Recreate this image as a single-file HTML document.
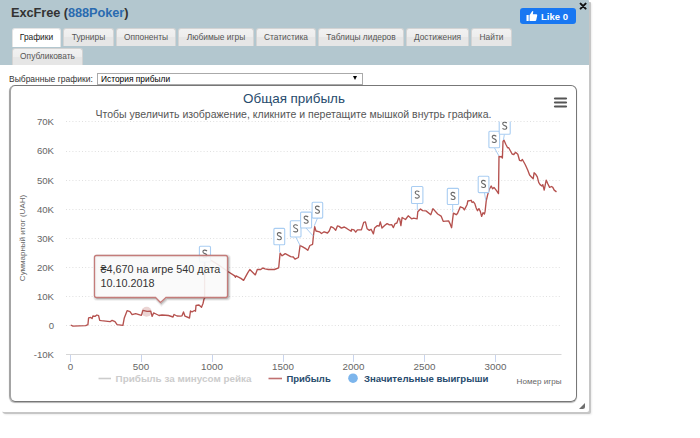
<!DOCTYPE html>
<html><head><meta charset="utf-8">
<style>
html,body{margin:0;padding:0;width:700px;height:438px;overflow:hidden;background:#fff;font-family:"Liberation Sans",sans-serif;}
.dlg{position:absolute;left:0;top:0;width:589px;height:412px;background:#fff;border-radius:0 1px 2px 4px;box-shadow:2px 2px 0 #c6c6c6,3px 3px 2px rgba(0,0,0,0.07);overflow:hidden;}
.hdr{position:absolute;left:0;top:0;width:589px;height:65px;background:#b3c7cf;}
.title{position:absolute;left:11px;top:5px;font-size:12.8px;letter-spacing:-0.08px;font-weight:bold;color:#333;white-space:nowrap;}
.title span{color:#2a6bb0;}
.like{position:absolute;left:520px;top:8px;width:56px;height:16px;background:#1877f2;border-radius:3px;color:#fff;font-weight:bold;font-size:9.5px;}
.like .t{position:absolute;left:21px;top:2.5px;}
.close{position:absolute;left:579px;top:1px;font-size:10px;font-weight:bold;color:#000;}
.tab{position:absolute;height:18px;background:linear-gradient(#f1f1f1 0%,#ededed 50%,#e6e6e6 50%,#e6e6e6 100%);border:1px solid #d3d3d3;border-bottom:none;border-radius:3px 3px 0 0;font-size:8.4px;color:#555;box-sizing:border-box;text-align:center;line-height:17px;white-space:nowrap;}
.tab.act{background:#fff;border-color:#e4e4e4;height:19px;color:#212121;}
.lbl{position:absolute;left:9px;top:74px;font-size:8.5px;color:#333;white-space:nowrap;}
.sel{position:absolute;left:97px;top:73px;width:266px;height:12px;border:1px solid #aaa;box-sizing:border-box;background:#fff;font-size:8.4px;color:#000;}
.sel .t{position:absolute;left:3px;top:0px;}
.sel .arr{position:absolute;left:255px;top:2px;width:0;height:0;border-left:2.3px solid transparent;border-right:2.3px solid transparent;border-top:4.6px solid #000;}
.chart{position:absolute;left:9px;top:85px;width:568px;height:317px;border:1.5px solid #777;border-left:2px solid #a4a4a4;border-radius:6px;box-sizing:border-box;box-shadow:0 1px 1px rgba(0,0,0,.3);}
svg{position:absolute;left:0;top:0;}
</style></head><body>
<div class="dlg">
 <div class="hdr">
  <div class="title">ExcFree (<span>888Poker</span>)</div>
  <div class="like"><svg width="12" height="12" style="left:6px;top:2px" viewBox="0 0 12 12"><path d="M0.5 5h2.2v6H0.5z M3.5 5.2 L6 1.5 Q7 0.6 7.3 1.6 L6.8 4.3 H10.5 Q11.5 4.5 11.2 5.6 L10.2 10.3 Q9.9 11 9.2 11 H3.5z" fill="#fff"/></svg><span class="t">Like 0</span></div>
  <svg width="8" height="8" style="left:579px;top:2px" viewBox="0 0 8 8"><path d="M1.6 1.6L6.6 6.6M6.6 1.6L1.6 6.6" stroke="#111" stroke-width="2" stroke-linecap="round"/></svg>
  <div class="tab act" style="left:12px;top:28px;width:49px;">Графики</div>
  <div class="tab" style="left:63px;top:28px;width:51px;">Турниры</div>
  <div class="tab" style="left:116px;top:28px;width:60px;">Оппоненты</div>
  <div class="tab" style="left:178px;top:28px;width:76px;">Любимые игры</div>
  <div class="tab" style="left:256px;top:28px;width:60px;">Статистика</div>
  <div class="tab" style="left:318px;top:28px;width:86px;">Таблицы лидеров</div>
  <div class="tab" style="left:406px;top:28px;width:63px;">Достижения</div>
  <div class="tab" style="left:471px;top:28px;width:41px;">Найти</div>
  <div class="tab" style="left:12px;top:48px;width:71px;height:17px;line-height:15px;">Опубликовать</div>
 </div>
 <div class="lbl">Выбранные графики:</div>
 <div class="chart"></div>
 <div class="sel"><span class="t">История прибыли</span><span class="arr"></span></div>
 <svg width="8" height="8" style="left:578px;top:402px" viewBox="0 0 8 8"><path d="M1 7 L7 1 L7 4.5 Q7 7 4.5 7 Z" fill="#6e6e6e"/></svg>
</div>
<svg width="700" height="438" viewBox="0 0 700 438" font-family="Liberation Sans">
 <defs><clipPath id="plotclip"><rect x="66" y="121.5" width="500" height="234"/></clipPath></defs>
 <!-- grid -->
 <g stroke="#e0e0e0" stroke-width="1" stroke-dasharray="1,2.2">
  <line x1="66" y1="121.5" x2="561" y2="121.5"/>
  <line x1="66" y1="151.5" x2="561" y2="151.5"/>
  <line x1="66" y1="180.5" x2="561" y2="180.5"/>
  <line x1="66" y1="209.5" x2="561" y2="209.5"/>
  <line x1="66" y1="238.5" x2="561" y2="238.5"/>
  <line x1="66" y1="267.5" x2="561" y2="267.5"/>
  <line x1="66" y1="296.5" x2="561" y2="296.5"/>
  <line x1="66" y1="325.5" x2="561" y2="325.5"/>
 </g>
 <line x1="66" y1="354.5" x2="561.5" y2="354.5" stroke="#d6d6d6" stroke-width="1"/>
 <g stroke="#c8d4ee" stroke-width="1">
  <line x1="70.5" y1="355" x2="70.5" y2="362"/>
  <line x1="141.5" y1="355" x2="141.5" y2="362"/>
  <line x1="212.5" y1="355" x2="212.5" y2="362"/>
  <line x1="283.5" y1="355" x2="283.5" y2="362"/>
  <line x1="353.5" y1="355" x2="353.5" y2="362"/>
  <line x1="424.5" y1="355" x2="424.5" y2="362"/>
  <line x1="495.5" y1="355" x2="495.5" y2="362"/>
 </g>
 <g font-size="9.6" fill="#666" text-anchor="end">
  <text x="54" y="124.5">70K</text>
  <text x="54" y="154">60K</text>
  <text x="54" y="183.5">50K</text>
  <text x="54" y="212.5">40K</text>
  <text x="54" y="241.5">30K</text>
  <text x="54" y="271">20K</text>
  <text x="54" y="300">10K</text>
  <text x="54" y="329">0</text>
  <text x="54" y="358">-10K</text>
 </g>
 <g font-size="9.8" fill="#666" text-anchor="middle">
  <text x="70.5" y="370.2">0</text>
  <text x="141" y="370.2">500</text>
  <text x="212" y="370.2">1000</text>
  <text x="283" y="370.2">1500</text>
  <text x="353.5" y="370.2">2000</text>
  <text x="424.5" y="370.2">2500</text>
  <text x="495.5" y="370.2">3000</text>
 </g>
 <text x="561.5" y="384" font-size="8.1" fill="#666" text-anchor="end">Номер игры</text>
 <text transform="translate(25,238) rotate(-90)" font-size="8" fill="#666" text-anchor="middle">Суммарный итог (UAH)</text>
 <text x="294" y="102.5" font-size="13.4" fill="#274b6d" text-anchor="middle">Общая прибыль</text>
 <text x="293.5" y="118" font-size="10.52" fill="#555" text-anchor="middle">Чтобы увеличить изображение, кликните и перетащите мышкой внутрь графика.</text>
 <!-- hamburger -->
 <g stroke="#555" stroke-width="2.2" stroke-linecap="round">
  <line x1="555" y1="98.5" x2="566" y2="98.5"/>
  <line x1="555" y1="102.5" x2="566" y2="102.5"/>
  <line x1="555" y1="106.5" x2="566" y2="106.5"/>
 </g>
 <!-- legend -->
 <line x1="98.5" y1="378.5" x2="111" y2="378.5" stroke="#ccc" stroke-width="1.6"/>
 <text x="115.6" y="382" font-size="9.9" font-weight="bold" fill="#ccc">Прибыль за минусом рейка</text>
 <line x1="268.5" y1="378.5" x2="282" y2="378.5" stroke="#c07070" stroke-width="1.6"/>
 <text x="286.4" y="382" font-size="9.5" font-weight="bold" fill="#274b6d">Прибыль</text>
 <circle cx="353" cy="378.2" r="4.8" fill="#7cb5ec"/>
 <text x="364" y="382" font-size="9.6" font-weight="bold" fill="#274b6d">Значительные выигрыши</text>
 <!-- series -->
 <polyline fill="none" stroke="#b5514e" stroke-width="1.35" stroke-linejoin="round" points="70.7,325 72.9,326.1 85.7,325.7 87.9,324.7 88.6,317.9 90.7,317.4 92.1,318.6 92.9,316 95,316.4 96.9,315 98.6,315.7 99.7,320.3 101.4,320.7 110,321.7 112.1,320.4 115,321.7 117.1,324.7 122.9,325.4 124.3,317.9 127.1,310.7 130,311.7 132.1,314.6 135.7,313.6 141.4,315.4 142.9,310.4 147.1,311.4 150.7,311.1 152.1,316.4 153.6,312.9 156,314 159,315.5 162,315 168.5,315.5 173,317 174,314.5 177,316 180,316.2 182,315.8 183.5,312 185,316.2 189.5,318 190.5,311 192,311.8 194.5,310.5 195.5,311.2 196,305.5 199,305 201.5,307.2 203,303.5 204,299 204.6,298.5 204.6,260.5 211.4,260.5 214.9,262.6 219,265.3 227.9,271.5 234.7,275.9 235.4,277.3 236.1,275.9 240.9,278.4 243.6,280.4 247.7,272.9 249.8,269.5 255.3,274.9 257.3,269.5 260.8,269.5 262.8,268 265,268.8 268.4,269.5 274.4,269.5 278.7,267.8 280.1,253.2 282.1,255.8 285.2,253.6 290.7,256.6 293.3,257 295,259.2 298.4,257.5 300.1,245.5 302.7,246.9 306.1,248.9 307.8,250.3 309.9,245.5 312.6,244.3 313.5,235.2 314.7,226.7 316,231 319.5,231.8 321.5,233.5 324.1,231.8 327.5,233 329.2,231 330.9,226.7 333.5,227.9 335.7,230.2 337.4,225.9 339.1,226.4 341.4,228.1 344.3,227 347.1,228.7 351.1,231.3 351.7,229.3 354,229.9 355.7,232.1 357.4,229.9 361.4,229.9 363.7,222.4 365.4,221.9 367.1,228.7 369.4,230.4 371.1,229.3 373.4,233.9 374.6,228.1 377.4,225.6 379.1,226.1 380.3,221.9 382,228.1 384.9,225.3 387.1,223.6 389.4,224.9 391.7,224.7 393.4,227.6 395.1,223.6 396.9,223 398.6,217.9 399.7,219.2 400.9,225.6 402.1,217.5 405.5,219.5 408.2,215.8 411.6,218.8 413.7,218.2 417.1,218.8 417.8,211.7 420.5,209 422.6,210.6 426,210.9 430.8,214.7 432.9,208.6 437.7,214 441.1,216.1 443.2,221.3 448.6,220.9 450,223.6 451.6,227.7 453.4,213.1 456.2,214.7 457.5,213.4 460.3,206.8 463,207.9 464.4,209.9 467.1,204.5 467.8,201 471.2,200.3 472.1,202.5 473.4,201.8 474.8,203.6 476.2,208 477.5,210.7 478.9,208.6 480.3,211.4 481.6,216.4 483,212.7 484.4,214.1 485.1,211.4 486.2,201.1 487.8,194.2 489.2,189.5 491.2,186 492.6,188.8 494,187.4 496.7,190.8 498.5,193.6 499,156.3 500.1,156.8 501.3,156.5 502.4,158 503,141.4 503.9,140 505.8,144.3 507.6,147.7 508.7,147.7 512.1,154 513.8,154.5 515.5,152.3 517.8,154.2 519.5,160.3 521.3,160.8 522.4,159.5 525.3,164.8 527.7,170 529.6,175.1 531.4,176.9 533.2,178.7 534.1,172.8 535.9,174.6 537.3,176.9 538.7,182.4 540.1,184.6 541.9,186 542.8,184.6 544.2,190.1 546.2,180.1 547.8,183.7 549.6,187.4 551.5,186.5 552.8,187.4 554.2,190.1 556.5,191.9"/>
 <!-- flags -->
<g clip-path="url(#plotclip)">
 <line x1="205" y1="262" x2="205" y2="268" stroke="#a9cdf2" stroke-width="1"/>
 <rect x="199.4" y="246.2" width="11.1" height="15.8" rx="1" fill="#fff" stroke="#a9cdf2" stroke-width="1.1"/>
 <path d="M207.0,251.0 Q205.8,249.9 204.3,250.1 Q202.6,250.5 203.1,252.2 Q203.5,253.2 204.9,253.6 Q206.5,254.1 206.9,255.2 Q207.2,257.0 205.2,257.2 Q203.7,257.4 202.7,256.4" fill="none" stroke="#6a6a6a" stroke-width="1.15"/>
 <line x1="279.6" y1="244.7" x2="279.6" y2="252.4" stroke="#a9cdf2" stroke-width="1"/>
 <rect x="273.9" y="228.4" width="10.8" height="16.3" rx="1" fill="#fff" stroke="#a9cdf2" stroke-width="1.1"/>
 <path d="M281.4,233.5 Q280.2,232.4 278.7,232.6 Q277.0,233.0 277.5,234.7 Q277.9,235.7 279.3,236.1 Q280.9,236.6 281.3,237.7 Q281.6,239.5 279.6,239.7 Q278.1,239.9 277.1,238.9" fill="none" stroke="#6a6a6a" stroke-width="1.15"/>
 <line x1="295.8" y1="237" x2="300.1" y2="245.5" stroke="#a9cdf2" stroke-width="1"/>
 <rect x="290.3" y="220.7" width="10.7" height="16.3" rx="1" fill="#fff" stroke="#a9cdf2" stroke-width="1.1"/>
 <path d="M297.7,225.7 Q296.5,224.6 295.0,224.8 Q293.3,225.2 293.8,226.9 Q294.2,227.9 295.6,228.3 Q297.2,228.8 297.6,229.9 Q297.9,231.7 295.9,231.9 Q294.4,232.1 293.4,231.1" fill="none" stroke="#6a6a6a" stroke-width="1.15"/>
 <line x1="306" y1="228" x2="313.3" y2="236.1" stroke="#a9cdf2" stroke-width="1"/>
 <rect x="300.6" y="212.1" width="11.0" height="15.9" rx="1" fill="#fff" stroke="#a9cdf2" stroke-width="1.1"/>
 <path d="M308.2,217.0 Q307.0,215.9 305.5,216.1 Q303.8,216.5 304.3,218.2 Q304.7,219.2 306.1,219.6 Q307.7,220.1 308.1,221.2 Q308.4,223.0 306.4,223.2 Q304.9,223.4 303.9,222.4" fill="none" stroke="#6a6a6a" stroke-width="1.15"/>
 <line x1="317.5" y1="218.1" x2="314.3" y2="225.8" stroke="#a9cdf2" stroke-width="1"/>
 <rect x="312.1" y="202.2" width="10.6" height="15.9" rx="1" fill="#fff" stroke="#a9cdf2" stroke-width="1.1"/>
 <path d="M319.5,207.0 Q318.3,205.9 316.8,206.1 Q315.1,206.5 315.6,208.2 Q316.0,209.2 317.4,209.6 Q319.0,210.1 319.4,211.2 Q319.7,213.0 317.7,213.2 Q316.2,213.4 315.2,212.4" fill="none" stroke="#6a6a6a" stroke-width="1.15"/>
 <line x1="417.3" y1="203.5" x2="417.3" y2="210.3" stroke="#a9cdf2" stroke-width="1"/>
 <rect x="411.5" y="186.5" width="11.4" height="17.0" rx="1" fill="#fff" stroke="#a9cdf2" stroke-width="1.1"/>
 <path d="M419.3,191.9 Q418.1,190.8 416.6,191.0 Q414.9,191.4 415.4,193.1 Q415.8,194.1 417.2,194.5 Q418.8,195.0 419.2,196.1 Q419.5,197.9 417.5,198.1 Q416.0,198.3 415.0,197.3" fill="none" stroke="#6a6a6a" stroke-width="1.15"/>
 <line x1="452.7" y1="204.5" x2="452.7" y2="212.3" stroke="#a9cdf2" stroke-width="1"/>
 <rect x="447.3" y="188.4" width="11.3" height="16.1" rx="1" fill="#fff" stroke="#a9cdf2" stroke-width="1.1"/>
 <path d="M455.1,193.3 Q453.9,192.2 452.4,192.4 Q450.7,192.8 451.2,194.5 Q451.6,195.5 453.0,195.9 Q454.6,196.4 455.0,197.5 Q455.3,199.3 453.3,199.5 Q451.8,199.7 450.8,198.7" fill="none" stroke="#6a6a6a" stroke-width="1.15"/>
 <line x1="484.4" y1="192.6" x2="485.8" y2="200.4" stroke="#a9cdf2" stroke-width="1"/>
 <rect x="478.2" y="176.2" width="10.7" height="16.4" rx="1" fill="#fff" stroke="#a9cdf2" stroke-width="1.1"/>
 <path d="M485.6,181.3 Q484.4,180.2 482.9,180.4 Q481.2,180.8 481.7,182.5 Q482.1,183.5 483.5,183.9 Q485.1,184.4 485.5,185.5 Q485.8,187.3 483.8,187.5 Q482.3,187.7 481.3,186.7" fill="none" stroke="#6a6a6a" stroke-width="1.15"/>
 <line x1="494.4" y1="147.7" x2="498.9" y2="155.9" stroke="#a9cdf2" stroke-width="1"/>
 <rect x="488.9" y="131.2" width="10.7" height="16.5" rx="1" fill="#fff" stroke="#a9cdf2" stroke-width="1.1"/>
 <path d="M496.3,136.3 Q495.1,135.2 493.6,135.4 Q491.9,135.8 492.4,137.5 Q492.8,138.5 494.2,138.9 Q495.8,139.4 496.2,140.5 Q496.5,142.3 494.5,142.5 Q493.0,142.7 492.0,141.7" fill="none" stroke="#6a6a6a" stroke-width="1.15"/>
 <line x1="504.4" y1="134.3" x2="503.4" y2="140" stroke="#a9cdf2" stroke-width="1"/>
 <rect x="499.2" y="117.8" width="11.0" height="16.5" rx="1" fill="#fff" stroke="#a9cdf2" stroke-width="1.1"/>
 <path d="M506.8,123.0 Q505.6,121.9 504.1,122.1 Q502.4,122.5 502.9,124.2 Q503.3,125.2 504.7,125.6 Q506.3,126.1 506.7,127.2 Q507.0,129.0 505.0,129.2 Q503.5,129.4 502.5,128.4" fill="none" stroke="#6a6a6a" stroke-width="1.15"/>
</g>
 <!-- hover halo -->
 <circle cx="146.6" cy="311.8" r="5" fill="#b05350" fill-opacity="0.25"/>
 <!-- tooltip -->
 <g transform="translate(1,1)" fill="none" stroke="#000"><path d="M96.5,255.5 H225.5 Q227.5,255.5 227.5,257.5 V295.5 Q227.5,297.5 225.5,297.5 H166 L160.5,302.5 L155.5,297.5 H96.5 Q94.5,297.5 94.5,295.5 V257.5 Q94.5,255.5 96.5,255.5 Z" stroke-opacity="0.05" stroke-width="5"/><path d="M96.5,255.5 H225.5 Q227.5,255.5 227.5,257.5 V295.5 Q227.5,297.5 225.5,297.5 H166 L160.5,302.5 L155.5,297.5 H96.5 Q94.5,297.5 94.5,295.5 V257.5 Q94.5,255.5 96.5,255.5 Z" stroke-opacity="0.1" stroke-width="3"/><path d="M96.5,255.5 H225.5 Q227.5,255.5 227.5,257.5 V295.5 Q227.5,297.5 225.5,297.5 H166 L160.5,302.5 L155.5,297.5 H96.5 Q94.5,297.5 94.5,295.5 V257.5 Q94.5,255.5 96.5,255.5 Z" stroke-opacity="0.15" stroke-width="1"/></g>
 <path d="M96.5,255.5 H225.5 Q227.5,255.5 227.5,257.5 V295.5 Q227.5,297.5 225.5,297.5 H166 L160.5,302.5 L155.5,297.5 H96.5 Q94.5,297.5 94.5,295.5 V257.5 Q94.5,255.5 96.5,255.5 Z" fill="#f9f9f9" fill-opacity="0.9" stroke="#c47c7a" stroke-width="1.3"/>
 <text x="100.4" y="273" font-size="10.8" fill="#333">₴4,670 на игре 540 дата</text>
 <text x="100.4" y="287" font-size="10.8" fill="#333">10.10.2018</text>
</svg>
</body></html>
